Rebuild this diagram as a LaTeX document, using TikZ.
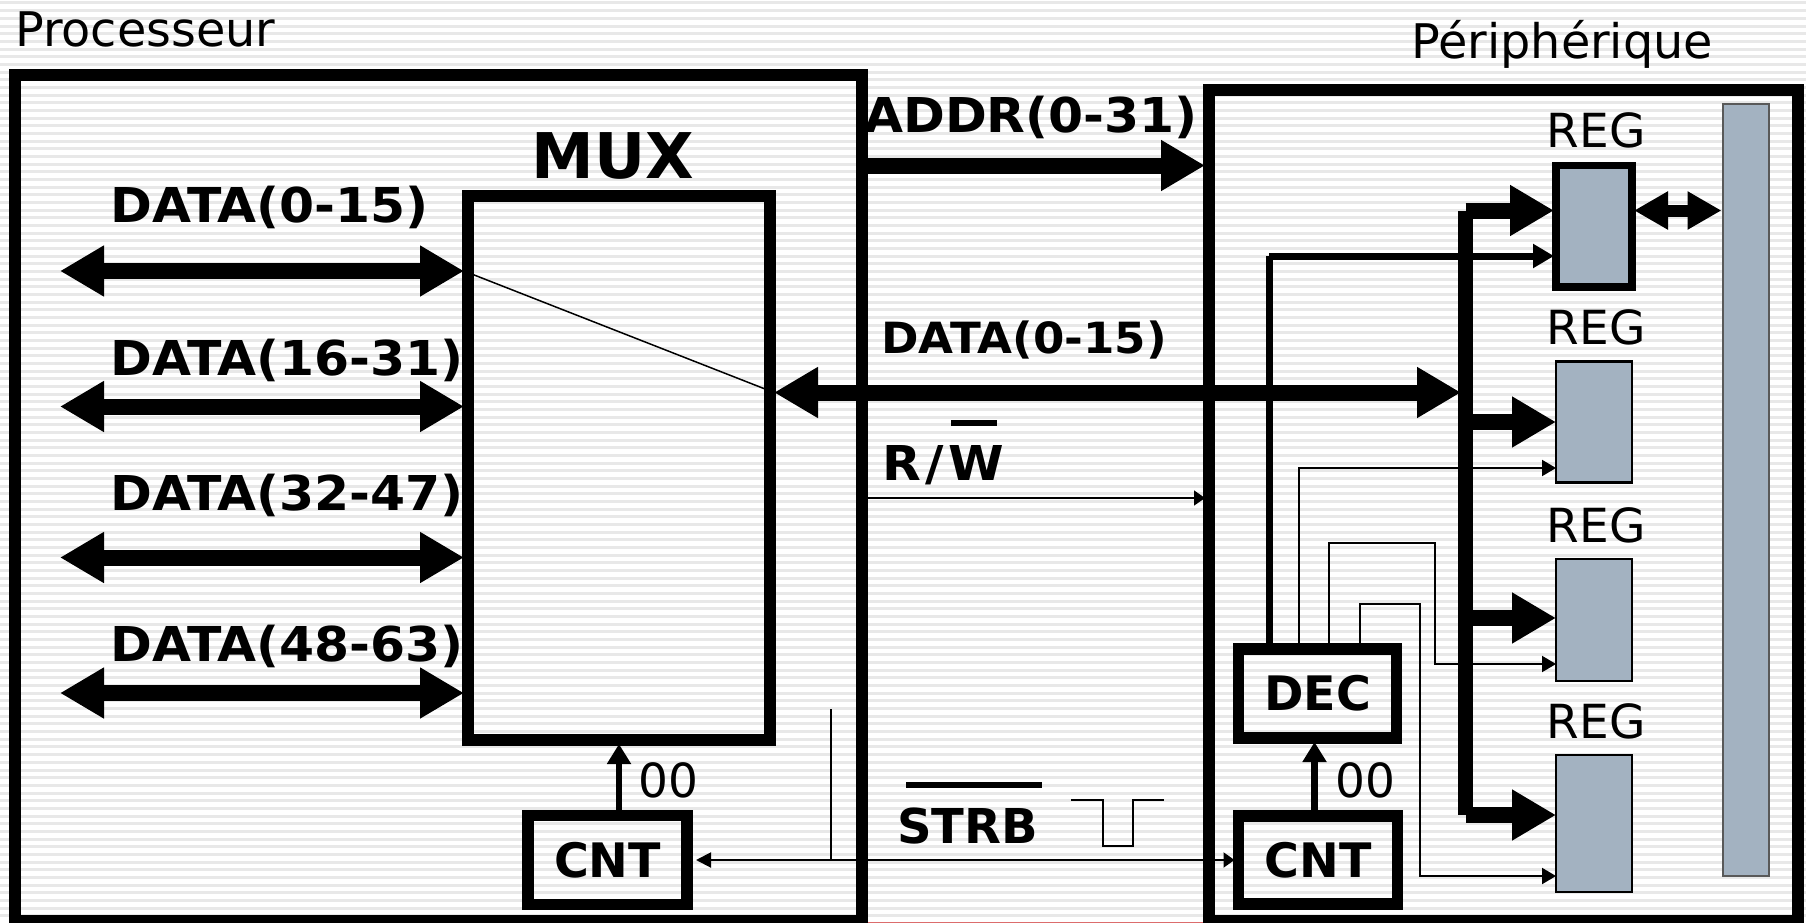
\documentclass[tikz,border=0pt]{standalone}
\usepackage{fontspec}
\setmainfont{DejaVu Sans}
\newfontfamily\busfont{DejaVu Sans}[FakeStretch=1.05]
\usetikzlibrary{arrows.meta}
\definecolor{stripe}{HTML}{E8E8E8}
\definecolor{regfill}{HTML}{A3B2C1}
\definecolor{cutline}{HTML}{DC6C6C}
\tikzset{
    bigtip/.tip={Triangle[length=44pt,width=48pt]},
    midtip/.tip={Triangle[length=34pt,width=36pt]},
    cnttip/.tip={Triangle[length=20pt,width=23pt]},
    ctrltip/.tip={Triangle[length=21pt,width=23pt]},
    wiretip/.tip={Triangle[length=14pt,width=16pt]},
    thintip/.tip={Triangle[length=11pt,width=15pt]},
}
\begin{document}
\begin{tikzpicture}[
        x=1pt, y=-1pt,
        every node/.style={inner sep=0pt, anchor=base west, font=\fontsize{47.7}{50}\selectfont},
        outerbox/.style={draw, line width=12pt, outer sep=4pt, anchor=center},
        logicbox/.style={draw, line width=11.5pt, outer sep=4pt, anchor=center, minimum width=158pt, minimum height=89pt,
            font=\fontsize{47.5}{50}\selectfont\bfseries},
        regbox/.style={draw, fill=regfill, line width=2.5pt, outer sep=0pt, anchor=center, minimum width=76pt, minimum height=#1},
        reglabel/.style={anchor=base, font=\fontsize{47}{50}\selectfont},
        buslabel/.style={font=\busfont\fontsize{48}{50}\selectfont\bfseries},
        smalllabel/.style={font=\busfont\fontsize{43}{50}\selectfont\bfseries},
        plainlabel/.style={font=\fontsize{48}{50}\selectfont\bfseries},
        fatbus/.style={line width=16pt},
        ctrl/.style={line width=7pt},
        wire/.style={line width=2pt},
    ]
    \useasboundingbox (0,0) rectangle (1806,923);
    \fill[white] (0,0) rectangle (1806,923);
    \foreach \n in {0,...,119}
        \fill[stripe] (0,{1.5+7.67*\n}) rectangle (1806,{4.5+7.67*\n});
    \fill[cutline] (867,921.5) rectangle (1203,923);

    \node[outerbox, minimum width=847pt, minimum height=846pt](proc) at (438,498){};
    \node[outerbox, minimum width=589pt, minimum height=831pt](peri) at (1503.5,505.5){};
    \node[outerbox, minimum width=302pt, minimum height=544.5pt](mux) at (619,467.75){};
    \node[logicbox, minimum width=159pt](cntp) at (607.5,860){CNT};
    \node[logicbox](dec) at (1317.5,693.5){DEC};
    \node[logicbox, minimum width=159pt, minimum height=88pt](cntd) at (1318,860){CNT};
    \node[regbox=121.5pt, line width=7.5pt, outer sep=2pt](rega) at (1594,226){};
    \node[regbox=121pt](regb) at (1594,422){};
    \node[regbox=122pt](regc) at (1594,620){};
    \node[regbox=137pt](regd) at (1594,823.5){};
    \node[draw=black!65, fill=regfill, line width=2pt, anchor=center, minimum width=46pt, minimum height=772pt](store) at (1745.5,490){};

    \node[] at (15,47){Processeur};
    \node[] at (1411,58.5){Périphérique};
    \node[anchor=base, font=\fontsize{63}{66}\selectfont\bfseries] at (613,178){MUX};
    \foreach \y in {147.5,344.5,542,738}
        \node[reglabel] at (1596,\y){REG};
    \node[reglabel, anchor=base west] at (638,797){00};
    \node[reglabel, anchor=base west] at (1335,797){00};

    \foreach \n/\lab/\ya/\yb in {a/DATA(0-15)/271/222.5,b/DATA(16-31)/406.5/375,c/DATA(32-47)/557.5/510,d/DATA(48-63)/693/661}{
        \node[buslabel] at (110,\yb){\lab};
        \coordinate (free\n) at (60,\ya);
        \draw[fatbus, bigtip-bigtip] (free\n) -- (free\n -| mux.west);
    }
    \coordinate (busjoint) at (1461,392.5);
    \draw[line width=1.5pt] (freea -| mux.west) -- (mux.east |- busjoint);
    \draw[fatbus, bigtip-bigtip] (mux.east |- busjoint) -- (busjoint);
    \coordinate (addrstart) at (861,165.5);
    \draw[fatbus, -bigtip] (addrstart) -- (addrstart -| peri.west);

    \node[buslabel] at (864,132){ADDR(0-31)};
    \node[smalllabel] at (881,353){DATA(0-15)};
    \node[plainlabel, font=\busfont\fontsize{48}{50}\selectfont\bfseries] at (882,480){R\kern4.5pt/\kern4.5pt W};
    \draw[line width=6pt] (951,423) -- (997,423);
    \coordinate (rwstart) at (867,498);
    \draw[line width=1.5pt, -thintip] (rwstart) -- (rwstart -| peri.west);

    \node[plainlabel] at (897,843){STRB};
    \draw[line width=6.5pt] (906,785) -- (1042,785);
    \draw[wire] (1071,800) -- (1103,800) -- (1103,846) -- (1133,846) -- (1133,800) -- (1164,800);

    \draw[line width=6.5pt, -cnttip] ([xshift=11.5pt]cntp.north) -- ([xshift=11.5pt]cntp.north |- mux.south);
    \draw[line width=7pt, -cnttip] ([xshift=-3.5pt]cntd.north) -- ([xshift=-3.5pt]cntd.north |- dec.south);

    \coordinate (strbtop) at (831,709);
    \draw[wire, {Triangle[length=15pt,width=15pt]}-thintip] ([xshift=5pt]cntp.east) -- (cntd.west);
    \draw[line width=1.5pt] (strbtop) -- (strbtop |- cntp.east);

    \coordinate (csa) at (1269,256);
    \draw[ctrl] (csa |- dec.north) -- (csa);
    \draw[ctrl, -ctrltip] (csa) -- (csa -| rega.west);

    \coordinate (bustop) at (1465.5,210.5);
    \coordinate (busbottom) at (1465.5,815);
    \draw[line width=15.5pt] (bustop) -- (busbottom);
    \draw[fatbus, -bigtip] (bustop) -- (bustop -| rega.west);
    \foreach \n/\y in {b/422,c/618}
        \draw[fatbus, -bigtip] (bustop |- 0,\y) -- (reg\n.west |- 0,\y);
    \draw[fatbus, -bigtip] (busbottom) -- (busbottom -| regd.west);

    \coordinate (linkstart) at (rega.east |- bustop);
    \draw[line width=12pt, midtip-midtip] (linkstart) -- (linkstart -| store.west);

    \coordinate (selb) at (1299,468);
    \coordinate (selc) at (1329,543);
    \coordinate (selcc) at (1435,664);
    \coordinate (seld) at (1360,604);
    \coordinate (seldd) at (1420,876);
    \draw[wire, -wiretip] (selb |- dec.north) -- (selb) -- (selb -| regb.west);
    \draw[wire, -wiretip] (selc |- dec.north) -- (selc) -| (selcc) -- (selcc -| regc.west);
    \draw[wire, -wiretip] (seld |- dec.north) -- (seld) -| (seldd) -- (seldd -| regd.west);
\end{tikzpicture}
\end{document}
